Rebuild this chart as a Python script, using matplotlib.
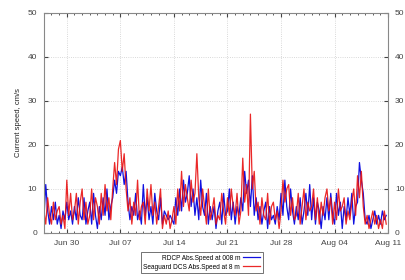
import matplotlib
matplotlib.use('Agg')
import matplotlib.pyplot as plt
import matplotlib.dates as mdates
import pandas as pd

plt.rcParams['font.family'] = ['Liberation Sans', 'DejaVu Sans']

# 6-hourly speeds (cm/s), one row per day, starting Jun 27
rdcp = [
    3, 11, 5, 2,   6, 3, 7, 2,    4, 1, 5, 3,    7, 3, 5, 2,    6, 3, 8, 4,
    3, 8, 2, 5,    7, 2, 9, 4,    1, 6, 3, 8,    4, 10, 3, 6,   8, 12, 9, 14,
    13, 15, 11, 14, 7, 3, 6, 4,   9, 3, 5, 2,    11, 4, 8, 3,   6, 2, 9, 5,
    3, 8, 2, 5,    4, 3, 4, 3,    2, 8, 4, 10,   5, 12, 7, 9,   13, 6, 10, 4,
    8, 3, 12, 6,   4, 9, 2, 6,    3, 6, 1, 5,    7, 2, 9, 4,    5, 10, 3, 7,
    2, 6, 4, 8,    5, 14, 9, 12,  6, 13, 4, 8,   3, 6, 2, 5,    7, 1, 6, 3,
    4, 2, 6, 3,    9, 4, 12, 6,   3, 10, 5, 2,   6, 3, 8, 2,    5, 9, 4, 11,
    3, 8, 2, 7,    5, 1, 6, 3,    8, 3, 9, 4,    2, 9, 4, 7,    1, 6, 3, 8,
    4, 9, 2, 6,    7, 16, 12, 9,  3, 2, 4, 1,    3, 5, 2, 4,    2, 5, 3, 4,
]
seaguard = [
    5, 2, 8, 4,    2, 7, 3, 5,    6, 2, 4, 1,    12, 4, 9, 3,   5, 9, 2, 7,
    10, 3, 7, 2,   4, 10, 3, 8,   6, 2, 9, 4,    11, 5, 8, 3,   10, 16, 11, 19,
    21, 14, 18, 10, 5, 8, 2, 7,   4, 12, 3, 6,   7, 2, 10, 5,   11, 4, 7, 2,
    6, 10, 1, 4,   2, 5, 1, 3,    6, 2, 10, 5,   14, 6, 11, 8,  5, 12, 7, 9,
    18, 8, 4, 10,  6, 2, 10, 3,   5, 8, 2, 4,    3, 9, 5, 2,    8, 4, 10, 6,
    4, 9, 2, 5,    17, 7, 11, 4,  27, 10, 14, 5, 7, 2, 8, 4,    3, 9, 2, 6,
    7, 3, 5, 1,    5, 12, 7, 10,  11, 4, 8, 3,   4, 9, 2, 6,    10, 3, 7, 5,
    6, 10, 3, 8,   2, 7, 4, 8,    10, 5, 8, 2,   7, 3, 10, 5,   6, 8, 2, 5,
    3, 7, 10, 4,   13, 8, 14, 6,  2, 4, 1, 3,    5, 2, 4, 1,    3, 1, 5, 2,
]
times = pd.date_range('2014-06-27', periods=len(rdcp), freq='6h')
xticks = pd.date_range('2014-06-30', '2014-08-11', freq='7D')

fig = plt.figure(figsize=(4.06, 2.80), dpi=100)
ax = fig.add_axes([0.108, 0.168, 0.848, 0.786])

ax.plot(times, rdcp, color='#1010e0', lw=0.9, label='RDCP Abs.Speed at 008 m')
ax.plot(times, seaguard, color='#e81010', lw=0.9, alpha=0.9,
        label='Seaguard DCS Abs.Speed at 8 m')

ax.set_xlim(pd.Timestamp('2014-06-27'), pd.Timestamp('2014-08-11'))
ax.set_ylim(0, 50)
ax.set_yticks(range(0, 51, 10))
ax.set_xticks(xticks)
ax.xaxis.set_major_formatter(mdates.DateFormatter('%b %d'))
ax.xaxis.set_minor_locator(mdates.DayLocator())
ax.grid(True, color='#cccccc', ls=':', lw=0.6)
ax.tick_params(direction='in', labelsize=6, colors='#444444', top=True,
               right=True, labelright=True, length=3, pad=5)
ax.tick_params(which='minor', direction='in', top=True, length=1.5,
               colors='#444444')
for s in ax.spines.values():
    s.set_color('#888888')
    s.set_linewidth(0.8)
ax.set_ylabel('Current speed, cm/s', fontsize=5.5, color='#222222', labelpad=4)

leg = ax.legend(loc='upper center', bbox_to_anchor=(0.459, -0.087), ncol=1,
                fontsize=4.7, markerfirst=False, frameon=True, fancybox=False,
                borderpad=0.4, handlelength=2.6, labelspacing=0.3,
                borderaxespad=0, handletextpad=0.5)
leg.get_frame().set_edgecolor('#333333')
leg.get_frame().set_linewidth(0.6)
for t in leg.get_texts():
    t.set_ha('right')

fig.savefig('out.png', dpi=100)
